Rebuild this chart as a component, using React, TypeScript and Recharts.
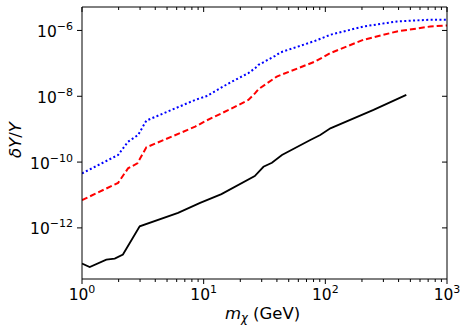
import React from "react";
import { LineChart, Line, XAxis, YAxis } from "recharts";

const massBlue = [1.0, 1.98, 2.39, 2.89, 3.38, 8.51, 10.5, 16.5, 23.3, 26.5, 28.2, 30.1, 38.7, 42.6, 82.6, 110, 206, 388, 729, 1000];
const deltaBlue = [4.53e-11, 1.64e-10, 4.16e-10, 6.65e-10, 1.82e-9, 7.74e-9, 1.0e-8, 2.61e-8, 5.04e-8, 7.16e-8, 9.0e-8, 1.02e-7, 1.69e-7, 2.14e-7, 4.85e-7, 7.4e-7, 1.32e-6, 1.88e-6, 2.12e-6, 2.12e-6];

const massRed = [1.0, 1.98, 2.39, 2.85, 3.38, 8.51, 10.5, 16.5, 23.3, 26.5, 28.2, 39.9, 82.6, 110, 206, 388, 729, 1000];
const deltaRed = [6.97e-12, 2.34e-11, 6.44e-11, 9.14e-11, 2.81e-10, 1.19e-9, 1.82e-9, 4.04e-9, 7.74e-9, 1.24e-8, 1.64e-8, 3.97e-8, 1.14e-7, 2.05e-7, 5.21e-7, 9.33e-7, 1.32e-6, 1.42e-6];

const massBlack = [1.0, 1.157, 1.585, 1.858, 2.17, 2.98, 6.16, 9.35, 14.0, 26.3, 31.0, 36.4, 44.0, 75.2, 90.8, 110, 249, 463];
const deltaBlack = [8.22e-14, 6.47e-14, 1.09e-13, 1.17e-13, 1.55e-13, 1.12e-12, 2.86e-12, 5.76e-12, 1.06e-11, 3.75e-11, 7.2e-11, 9.5e-11, 1.64e-10, 4.69e-10, 6.65e-10, 1.06e-9, 3.85e-9, 1.10e-8];

const xTicks = [1, 2, 3, 4, 5, 6, 7, 8, 9, 10, 20, 30, 40, 50, 60, 70, 80, 90, 100, 200, 300, 400, 500, 600, 700, 800, 900, 1000];
const yTicks = [1e-12, 1e-10, 1e-8, 1e-6];
const xDomain = [1, 1000];
const yDomain = [2.8e-14, 5.16e-6];

const blueData = massBlue.map((x, i) => ({ x, y: deltaBlue[i] }));
const redData = massRed.map((x, i) => ({ x, y: deltaRed[i] }));
const blackData = massBlack.map((x, i) => ({ x, y: deltaBlack[i] }));

const FONT = "DejaVu Sans";
const TICK_FS = 15.5;
const SUP_FS = 11;
const LABEL_FS = 16.5;
const isMajor = (v: number) => Math.abs(Math.log10(v) - Math.round(Math.log10(v))) < 1e-9;
const expOf = (v: number) => {
  const e = Math.round(Math.log10(v));
  return e < 0 ? "\u2212" + Math.abs(e) : String(e);
};

const BottomTick = (props: any) => {
  const { x, y, payload } = props;
  const major = isMajor(payload.value);
  return (
    <g>
      <line x1={x} x2={x} y1={y} y2={y + (major ? 5 : 3)} stroke="#000" strokeWidth={1} />
      {major && (
        <text x={x} y={y + 21} textAnchor="middle" fontFamily={FONT} fontSize={TICK_FS} fill="#000">
          10<tspan dy={-7} fontSize={SUP_FS}>{expOf(payload.value)}</tspan>
        </text>
      )}
    </g>
  );
};

const TopTick = (props: any) => {
  const { x, y, payload } = props;
  const major = isMajor(payload.value);
  return <line x1={x} x2={x} y1={y} y2={y + (major ? 5 : 3)} stroke="#000" strokeWidth={1} />;
};

const LeftTick = (props: any) => {
  const { x, y, payload } = props;
  return (
    <g>
      <line x1={x} x2={x - 5} y1={y} y2={y} stroke="#000" strokeWidth={1} />
      <text x={x - 9} y={y + 6.5} textAnchor="end" fontFamily={FONT} fontSize={TICK_FS} fill="#000">
        10<tspan dy={-7} fontSize={SUP_FS}>{expOf(payload.value)}</tspan>
      </text>
    </g>
  );
};

const RightTick = (props: any) => {
  const { x, y } = props;
  return <line x1={x} x2={x - 5} y1={y} y2={y} stroke="#000" strokeWidth={1} />;
};

const XLabel = (props: any) => {
  const vb = props.viewBox || { x: 82, y: 279, width: 365, height: 55 };
  return (
    <text x={vb.x + vb.width / 2 - 2} y={vb.y + 40} textAnchor="middle" fontFamily={FONT} fontSize={LABEL_FS} fill="#000">
      <tspan fontStyle="italic">m</tspan>
      <tspan fontStyle="italic" fontSize={11.5} dy={3}>χ</tspan>
      <tspan dy={-3}> (GeV)</tspan>
    </text>
  );
};

const YLabel = (props: any) => {
  const vb = props.viewBox || { x: 0, y: 7, width: 82, height: 272 };
  const cx = 15;
  const cy = vb.y + vb.height / 2 - 3;
  return (
    <text x={cx} y={cy} transform={`rotate(-90 ${cx} ${cy})`} textAnchor="middle" dominantBaseline="central" fontFamily={FONT} fontSize={LABEL_FS} fill="#000">
      <tspan fontStyle="italic">δY</tspan>
      <tspan>/</tspan>
      <tspan fontStyle="italic">Y</tspan>
    </text>
  );
};

export default function App() {
  return (
    <div style={{ position: "absolute", left: 0, top: 0, width: 469, height: 334, background: "#fff" }}>
      <LineChart width={469} height={334} margin={{ top: 6, right: 21, bottom: 0, left: 0 }}>
        <XAxis
          xAxisId="b"
          dataKey="x"
          type="number"
          scale="log"
          domain={xDomain}
          ticks={xTicks}
          interval={0}
          tickSize={0}
          tickMargin={0}
          tickLine={false}
          tick={<BottomTick />}
          axisLine={{ stroke: "#000", strokeWidth: 1 }}
          height={55}
          allowDataOverflow
          label={<XLabel />}
        />
        <XAxis
          xAxisId="t"
          orientation="top"
          dataKey="x"
          type="number"
          scale="log"
          domain={xDomain}
          ticks={xTicks}
          interval={0}
          tickSize={0}
          tickMargin={0}
          tickLine={false}
          tick={<TopTick />}
          axisLine={{ stroke: "#000", strokeWidth: 1 }}
          height={1}
          allowDataOverflow
        />
        <YAxis
          yAxisId="l"
          type="number"
          scale="log"
          domain={yDomain}
          ticks={yTicks}
          interval={0}
          tickSize={0}
          tickMargin={0}
          tickLine={false}
          tick={<LeftTick />}
          axisLine={{ stroke: "#000", strokeWidth: 1 }}
          width={82}
          allowDataOverflow
          label={<YLabel />}
        />
        <YAxis
          yAxisId="r"
          orientation="right"
          type="number"
          scale="log"
          domain={yDomain}
          ticks={yTicks}
          interval={0}
          tickSize={0}
          tickMargin={0}
          tickLine={false}
          tick={<RightTick />}
          axisLine={{ stroke: "#000", strokeWidth: 1 }}
          width={1}
          allowDataOverflow
        />
        <Line
          xAxisId="b"
          yAxisId="l"
          data={blueData}
          dataKey="y"
          type="linear"
          stroke="#0000ff"
          strokeWidth={2}
          strokeDasharray="2 2.4"
          dot={false}
          isAnimationActive={false}
        />
        <Line
          xAxisId="b"
          yAxisId="l"
          data={redData}
          dataKey="y"
          type="linear"
          stroke="#ff0000"
          strokeWidth={2}
          strokeDasharray="6 3"
          dot={false}
          isAnimationActive={false}
        />
        <Line
          xAxisId="b"
          yAxisId="l"
          data={blackData}
          dataKey="y"
          type="linear"
          stroke="#000000"
          strokeWidth={1.8}
          dot={false}
          isAnimationActive={false}
        />
      </LineChart>
    </div>
  );
}
